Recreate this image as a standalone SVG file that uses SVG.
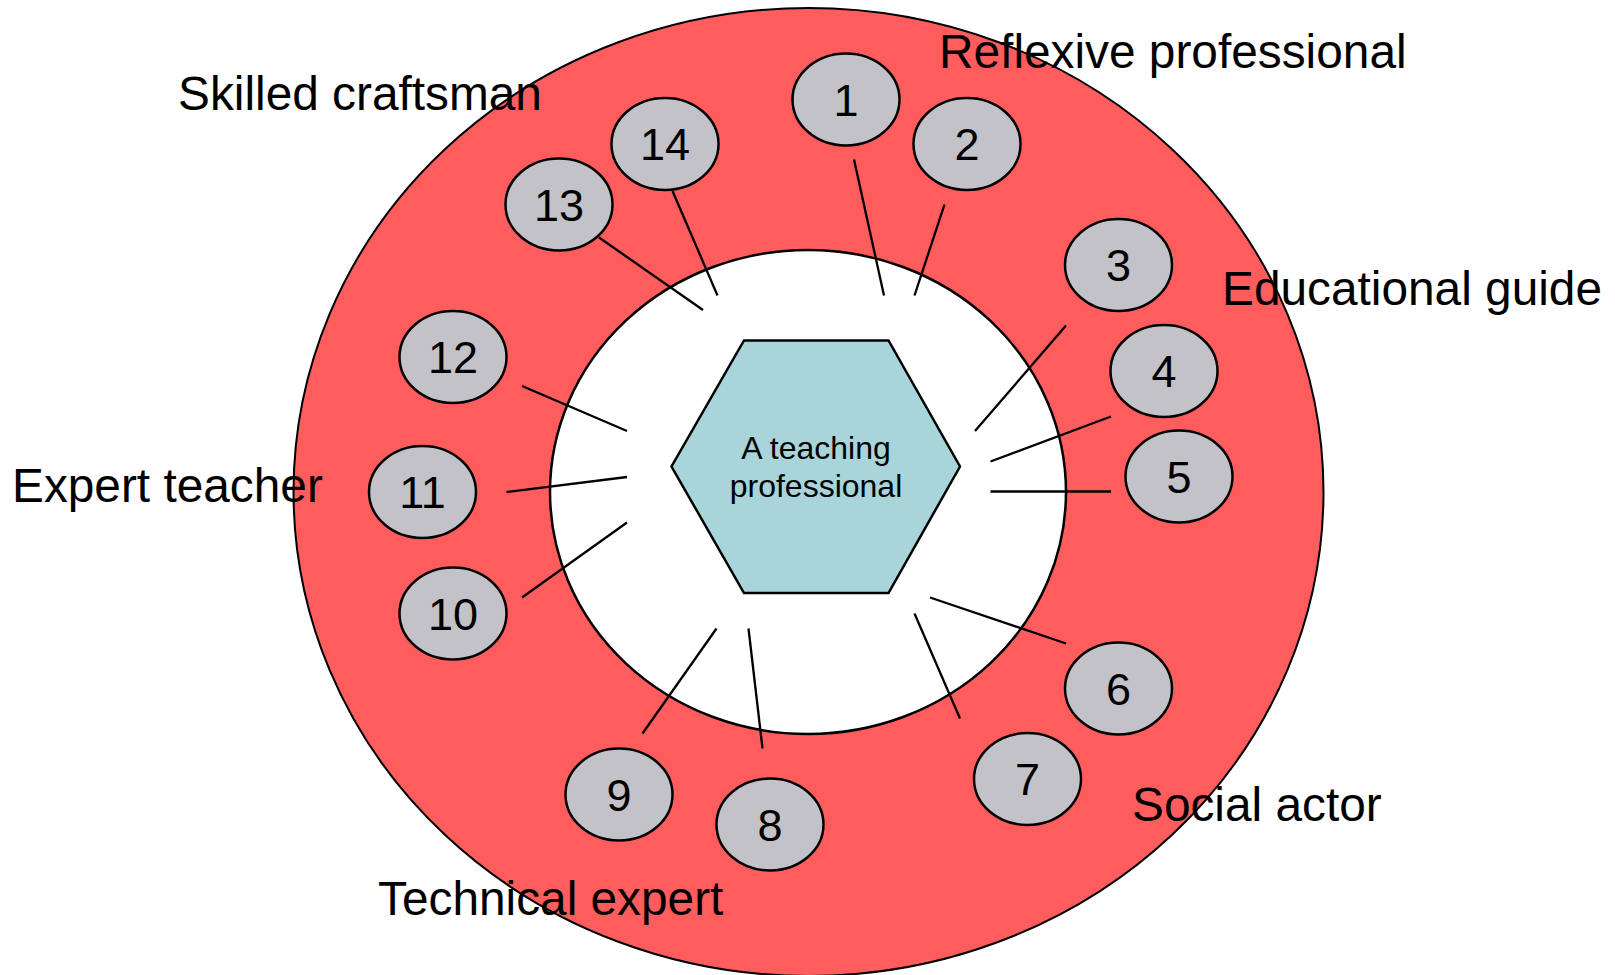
<svg xmlns="http://www.w3.org/2000/svg" width="1615" height="975" viewBox="0 0 1615 975">
<style>
.ring{fill:#FF5C5E;stroke:#000;stroke-width:2}
.hole{fill:#FFFFFF;stroke:#000;stroke-width:2.5}
.num ellipse{fill:#C3C2C8;stroke:#000;stroke-width:2.5}
.num text{font-family:"Liberation Sans",Arial,sans-serif;font-size:45px;fill:#000;text-anchor:middle}
.lbl{font-family:"Liberation Sans",Arial,sans-serif;font-size:47.8px;fill:#000}
.conn line{stroke:#000;stroke-width:2.3}
.hex polygon{fill:#A7D5DA;stroke:#000;stroke-width:2.5}
.hex text{font-family:"Liberation Sans",Arial,sans-serif;font-size:32px;fill:#000;text-anchor:middle}
</style>
<rect width="1615" height="975" fill="#FFFFFF"/>
<ellipse class="ring" cx="808.5" cy="492" rx="515" ry="484"/>
<ellipse class="hole" cx="808" cy="492" rx="258" ry="242"/>

<g id="center" class="hex">
<polygon points="744,340.5 888.5,340.5 960,466.5 888.5,593 744,593 671.5,466.5"/>
<text x="816" y="459">A teaching</text>
<text x="816" y="497">professional</text>
</g>

<g id="connectors" class="conn">
<line x1="854" y1="159.5" x2="884" y2="295.5"/>
<line x1="944.5" y1="204.5" x2="914.5" y2="295.5"/>
<line x1="1066" y1="325.5" x2="975" y2="431"/>
<line x1="1111" y1="416.5" x2="990.5" y2="461.5"/>
<line x1="990.5" y1="491.5" x2="1111" y2="491.5"/>
<line x1="1066" y1="643.5" x2="930" y2="597.5"/>
<line x1="960" y1="718.5" x2="914.5" y2="613.5"/>
<line x1="762.5" y1="748.5" x2="748.5" y2="628.5"/>
<line x1="642.5" y1="733.5" x2="716.5" y2="628.5"/>
<line x1="522" y1="597.5" x2="627" y2="522.5"/>
<line x1="506.5" y1="492" x2="627" y2="477"/>
<line x1="522" y1="386" x2="627" y2="431"/>
<line x1="599" y1="237.5" x2="703" y2="310"/>
<line x1="672.5" y1="191" x2="717.5" y2="295.5"/>
</g>

<g id="n1" class="num"><ellipse cx="846" cy="99.5" rx="53.5" ry="46"/><text x="846" y="115.5">1</text></g>
<g id="n2" class="num"><ellipse cx="967" cy="144" rx="53.5" ry="46"/><text x="967" y="160">2</text></g>
<g id="n3" class="num"><ellipse cx="1118.5" cy="265" rx="53.5" ry="46"/><text x="1118.5" y="281">3</text></g>
<g id="n4" class="num"><ellipse cx="1164" cy="371" rx="53.5" ry="46"/><text x="1164" y="387">4</text></g>
<g id="n5" class="num"><ellipse cx="1179" cy="476.5" rx="53.5" ry="46"/><text x="1179" y="492.5">5</text></g>
<g id="n6" class="num"><ellipse cx="1118.5" cy="688.5" rx="53.5" ry="46"/><text x="1118.5" y="704.5">6</text></g>
<g id="n7" class="num"><ellipse cx="1027.5" cy="779" rx="53.5" ry="46"/><text x="1027.5" y="795">7</text></g>
<g id="n8" class="num"><ellipse cx="770" cy="824.5" rx="53.5" ry="46"/><text x="770" y="840.5">8</text></g>
<g id="n9" class="num"><ellipse cx="619" cy="794.5" rx="53.5" ry="46"/><text x="619" y="810.5">9</text></g>
<g id="n10" class="num"><ellipse cx="453" cy="613.5" rx="53.5" ry="46"/><text x="453" y="629.5">10</text></g>
<g id="n11" class="num"><ellipse cx="422.5" cy="492" rx="53.5" ry="46"/><text x="422.5" y="508">11</text></g>
<g id="n12" class="num"><ellipse cx="453" cy="357" rx="53.5" ry="46"/><text x="453" y="373">12</text></g>
<g id="n13" class="num"><ellipse cx="559" cy="204.5" rx="53.5" ry="46"/><text x="559" y="220.5">13</text></g>
<g id="n14" class="num"><ellipse cx="665" cy="144" rx="53.5" ry="46"/><text x="665" y="160">14</text></g>

<g id="labels">
<text class="lbl" x="178" y="110">Skilled craftsman</text>
<text class="lbl" x="939" y="68">Reflexive professional</text>
<text class="lbl" x="1222" y="305">Educational guide</text>
<text class="lbl" x="12" y="502">Expert teacher</text>
<text class="lbl" x="378" y="915">Technical expert</text>
<text class="lbl" x="1132" y="821">Social actor</text>
</g>
</svg>
